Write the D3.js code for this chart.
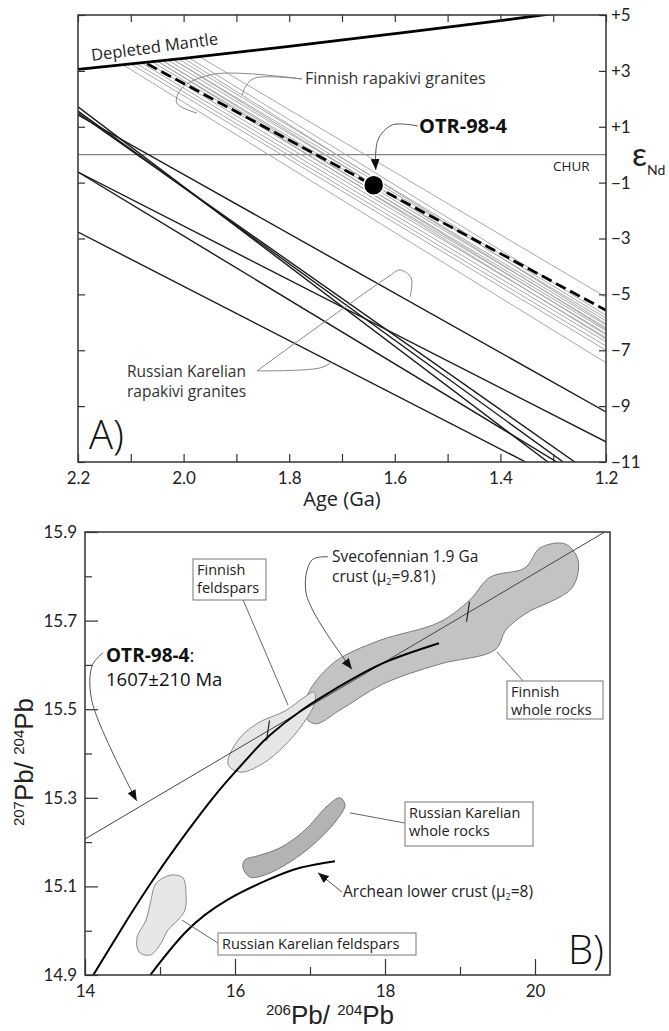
<!DOCTYPE html>
<html><head><meta charset="utf-8">
<script src="https://cdn.jsdelivr.net/npm/d3@7"></script>
<style>
body{margin:0;background:#fff}
svg{display:block;font-family:"Open Sans",Lato,sans-serif}
</style></head><body>
<svg id="fig" width="669" height="1031"></svg>
<script>
// ---------- panel A : eNd vs age ----------
const ageTicks = [2.2, 2.1, 2.0, 1.9, 1.8, 1.7, 1.6, 1.5, 1.4, 1.3, 1.2];
const epsTicks = [5, 3, 1, -1, -3, -5, -7, -9, -11];
const dmAge = [2.2, 2.0, 1.8, 1.6, 1.4, 1.3];
const dmEps = [3.05, 3.45, 3.88, 4.33, 4.80, 5.05];
// Finnish rapakivi granites: start on DM (age, eps) and eps at 1.2 Ga
const finStartAge = [1.97, 1.99, 2.01, 2.02, 2.00, 2.03, 2.04, 2.02, 2.05, 2.06, 2.04, 2.07, 2.05, 2.08, 2.09, 2.10, 2.115];
const finStartEps = [3.51, 3.47, 3.43, 3.41, 3.45, 3.39, 3.37, 3.41, 3.35, 3.33, 3.37, 3.31, 3.35, 3.29, 3.27, 3.25, 3.22];
const finEndEps   = [-5.10, -5.75, -5.85, -5.95, -6.05, -6.10, -6.20, -6.25, -6.30, -6.40, -6.45, -6.55, -6.60, -6.70, -6.85, -7.00, -7.45];
const otrLine = [[2.069, 3.25], [1.2, -5.57]];
const otrPoint = [1.64, -1.09];
// Russian Karelian rapakivi granites (age, eps) end points
const rkLines = [
  [[2.2, 1.42], [1.2, -9.21]],
  [[2.2, -0.62], [1.2, -10.28]],
  [[2.2, -0.62], [1.293, -11]],
  [[2.2, -2.77], [1.352, -11]],
  [[2.2, 1.71], [1.31, -11]],
  [[2.2, 1.56], [1.281, -11]],
  [[2.2, 1.49], [1.259, -11]]
];

// ---------- panel B : Pb isotopes ----------
const pb6Major = [14, 16, 18, 20];
const pb6Minor = [15, 17, 19];
const pb7Major = [14.9, 15.1, 15.3, 15.5, 15.7, 15.9];
const pb7Minor = [15.0, 15.2, 15.4, 15.6, 15.8];
const isochron = [[14.0, 15.207], [20.93, 15.9]];
const isoMarks = [[16.44, 15.452], [19.107, 15.72]];
const svecoCurve = [[14.11, 14.9], [14.56, 15.024], [14.96, 15.128], [15.36, 15.223], [15.707, 15.300], [16.0, 15.358],
  [16.24, 15.403], [16.467, 15.442], [16.907, 15.5], [17.36, 15.548], [17.973, 15.604], [18.72, 15.649]];
const archeanCurve = [[14.87, 14.9], [15.36, 15.0], [15.893, 15.069], [16.427, 15.114], [16.867, 15.142], [17.333, 15.157]];
const finWR = [[16.907, 15.491], [17.0, 15.543], [17.333, 15.607], [17.907, 15.654], [18.733, 15.697], [19.133, 15.747],
  [19.4, 15.798], [19.867, 15.819], [20.067, 15.864], [20.4, 15.873], [20.573, 15.837], [20.493, 15.774],
  [19.867, 15.715], [19.613, 15.679], [19.467, 15.634], [18.733, 15.602], [17.973, 15.557], [17.4, 15.498], [17.067, 15.467]];
const finFsp = [[15.907, 15.376], [16.04, 15.43], [16.307, 15.469], [16.667, 15.496], [16.933, 15.528], [17.053, 15.539],
  [17.067, 15.516], [16.893, 15.464], [16.667, 15.419], [16.36, 15.376], [16.067, 15.358]];
const rkWR = [[16.107, 15.142], [16.2, 15.121], [16.4, 15.126], [16.733, 15.155], [17.067, 15.198], [17.333, 15.245],
  [17.467, 15.284], [17.4, 15.300], [17.227, 15.281], [16.933, 15.227], [16.6, 15.187], [16.307, 15.169], [16.133, 15.16]];
const rkFsp = [[15.173, 15.126], [15.307, 15.119], [15.347, 15.081], [15.333, 15.047], [15.24, 15.024], [15.107, 15.002],
  [15.0, 14.968], [14.867, 14.945], [14.72, 14.952], [14.693, 14.984], [14.813, 15.024], [14.88, 15.069], [14.933, 15.103], [15.04, 15.119]];

const svg = d3.select("#fig");
const defs = svg.append("defs");
defs.append("marker").attr("id", "arr").attr("viewBox", "0 0 10 10")
  .attr("refX", 10).attr("refY", 5).attr("markerWidth", 11).attr("markerHeight", 11)
  .attr("markerUnits", "userSpaceOnUse").attr("orient", "auto")
  .append("path").attr("d", "M0,1 L10,5 L0,9 z").attr("fill", "#111");

function styleAxis(g, size) {
  g.select(".domain").remove();
  g.selectAll(".tick line").attr("stroke", "#333").attr("stroke-width", 1.2);
  g.selectAll(".tick text").attr("font-size", size).attr("fill", "#222").attr("font-family", "Lato, sans-serif");
}

// ================= PANEL A =================
const A = {l: 78, r: 606, t: 15, b: 462};
const xA = d3.scaleLinear().domain([2.2, 1.2]).range([A.l, A.r]);
const yA = d3.scaleLinear().domain([5, -11]).range([A.t, A.b]);
const lineA = d3.line().x(d => xA(d[0])).y(d => yA(d[1]));
const gA = svg.append("g");

defs.append("clipPath").attr("id", "clipA").append("rect")
  .attr("x", A.l).attr("y", A.t).attr("width", A.r - A.l).attr("height", A.b - A.t);
const plotA = gA.append("g").attr("clip-path", "url(#clipA)");

// CHUR
plotA.append("path").attr("d", lineA([[2.2, 0], [1.2, 0]])).attr("stroke", "#666").attr("stroke-width", 1).attr("fill", "none");

// Russian Karelian lines
plotA.selectAll(".rk").data(rkLines).join("path")
  .attr("d", d => lineA(d)).attr("stroke", "#1a1a1a").attr("stroke-width", 1.4).attr("fill", "none");

// Finnish lines
plotA.selectAll(".fin").data(finStartAge).join("path")
  .attr("d", (d, i) => lineA([[d, finStartEps[i]], [1.2, finEndEps[i]]]))
  .attr("stroke", "#a9a9a9").attr("stroke-width", 1).attr("fill", "none");

// OTR-98-4 dashed
plotA.append("path").attr("d", lineA(otrLine)).attr("stroke", "#000").attr("stroke-width", 2.8)
  .attr("stroke-dasharray", "11,5").attr("fill", "none");

// Depleted mantle
const dmLine = d3.line().x(d => xA(d[0])).y(d => yA(d[1])).curve(d3.curveMonotoneX);
plotA.append("path").attr("d", dmLine(dmAge.map((a, i) => [a, dmEps[i]])))
  .attr("stroke", "#000").attr("stroke-width", 2.8).attr("fill", "none");

plotA.append("circle").attr("cx", xA(otrPoint[0])).attr("cy", yA(otrPoint[1])).attr("r", 10)
  .attr("fill", "#000").attr("stroke", "#fff").attr("stroke-width", 1.5);

// frame + axes
gA.append("rect").attr("x", A.l).attr("y", A.t).attr("width", A.r - A.l).attr("height", A.b - A.t)
  .attr("fill", "none").attr("stroke", "#333").attr("stroke-width", 1.5);
gA.append("g").attr("transform", `translate(${A.r},0)`)
  .call(d3.axisRight(yA).tickValues(epsTicks).tickSize(-7).tickPadding(5)
    .tickFormat(d => d > 0 ? "+" + d : "\u2212" + Math.abs(d)))
  .call(g => styleAxis(g, 17));
gA.append("g").attr("transform", `translate(${A.l},0)`)
  .call(d3.axisLeft(yA).tickValues(epsTicks).tickSize(-7).tickFormat(""))
  .call(g => styleAxis(g, 17));
gA.append("g").attr("transform", `translate(0,${A.t})`)
  .call(d3.axisTop(xA).tickValues(ageTicks).tickSize(-7).tickFormat(""))
  .call(g => styleAxis(g, 17));
gA.append("g").attr("transform", `translate(0,${A.b})`)
  .call(d3.axisBottom(xA).tickValues(ageTicks).tickSize(-8).tickPadding(10)
    .tickFormat((d, i) => i % 2 === 0 ? d.toFixed(1) : ""))
  .call(g => styleAxis(g, 17));

gA.append("text").attr("x", (A.l + A.r) / 2).attr("y", 506).attr("text-anchor", "middle")
  .attr("font-size", 20).attr("fill", "#222").text("Age (Ga)");
const eps = gA.append("text").attr("x", 632).attr("y", 166).attr("fill", "#222").attr("font-family", "Lato, sans-serif");
eps.append("tspan").attr("font-size", 33).text("\u03b5");
eps.append("tspan").attr("font-size", 14).attr("dy", 9).text("Nd");

gA.append("text").attr("x", 553).attr("y", 171).attr("font-size", 13.5).attr("fill", "#222").text("CHUR");
gA.append("text").attr("transform", `translate(92,61) rotate(-7.5)`).attr("font-size", 16.5).attr("fill", "#222").text("Depleted Mantle");
gA.append("text").attr("x", 305).attr("y", 84).attr("font-size", 16).attr("fill", "#333").text("Finnish rapakivi granites");
gA.append("text").attr("x", 419).attr("y", 133).attr("font-size", 20).attr("font-weight", "bold").attr("fill", "#111").text("OTR-98-4");
gA.append("text").attr("x", 127).attr("y", 377).attr("font-size", 15.5).attr("fill", "#333").text("Russian Karelian");
gA.append("text").attr("x", 127).attr("y", 397).attr("font-size", 15.5).attr("fill", "#333").text("rapakivi granites");
gA.append("text").attr("x", 89).attr("y", 449).attr("font-size", 40).attr("font-weight", 300).attr("fill", "#111").text("A)");

const curveA = d3.line().x(d => xA(d[0])).y(d => yA(d[1])).curve(d3.curveCatmullRom);
const leaderA = [
  [[1.776, 2.71], [1.865, 2.745], [1.882, 2.459], [1.889, 2.137]],
  [[1.776, 2.71], [1.941, 2.888], [2.003, 2.387], [2.013, 1.85], [1.975, 1.49]],
  [[1.861, -7.74], [1.742, -7.634], [1.719, -7.42]],
  [[1.861, -7.74], [1.613, -4.377], [1.590, -4.127], [1.569, -4.413], [1.571, -5.093]]
];
gA.selectAll(".ldA").data(leaderA).join("path").attr("d", d => curveA(d))
  .attr("fill", "none").attr("stroke", "#888").attr("stroke-width", 1);
gA.append("path").attr("d", curveA([[1.556, 1.027], [1.605, 1.063], [1.632, 0.526], [1.636, -0.55]]))
  .attr("fill", "none").attr("stroke", "#555").attr("stroke-width", 1).attr("marker-end", "url(#arr)");

// ================= PANEL B =================
const B = {l: 85, r: 610, t: 532, b: 975};
const xB = d3.scaleLinear().domain([14, 21]).range([B.l, B.r]);
const yB = d3.scaleLinear().domain([14.9, 15.9]).range([B.b, B.t]);
const gB = svg.append("g");
defs.append("clipPath").attr("id", "clipB").append("rect")
  .attr("x", B.l).attr("y", B.t).attr("width", B.r - B.l).attr("height", B.b - B.t);
const plotB = gB.append("g").attr("clip-path", "url(#clipB)");
const blob = d3.line().x(d => xB(d[0])).y(d => yB(d[1])).curve(d3.curveCatmullRomClosed);
const curveB = d3.line().x(d => xB(d[0])).y(d => yB(d[1])).curve(d3.curveCatmullRom);
const growth = d3.line().x(d => xB(d[0])).y(d => yB(d[1])).curve(d3.curveNatural);

plotB.append("path").attr("d", blob(finWR)).attr("fill", "#c3c3c3").attr("stroke", "#7a7a7a").attr("stroke-width", 1);
plotB.append("path").attr("d", blob(finFsp)).attr("fill", "#e6e6e6").attr("stroke", "#8a8a8a").attr("stroke-width", 1);
plotB.append("path").attr("d", blob(rkWR)).attr("fill", "#b3b3b3").attr("stroke", "#777").attr("stroke-width", 1);
plotB.append("path").attr("d", blob(rkFsp)).attr("fill", "#e6e6e6").attr("stroke", "#8a8a8a").attr("stroke-width", 1);

plotB.append("path").attr("d", curveB(isochron)).attr("stroke", "#444").attr("stroke-width", 1).attr("fill", "none");
plotB.append("path").attr("d", growth(svecoCurve)).attr("stroke", "#000").attr("stroke-width", 2).attr("fill", "none");
plotB.append("path").attr("d", growth(archeanCurve)).attr("stroke", "#000").attr("stroke-width", 2).attr("fill", "none");
plotB.selectAll(".mk").data(isoMarks).join("line")
  .attr("x1", d => xB(d[0]) + 1.5).attr("y1", d => yB(d[1]) - 10)
  .attr("x2", d => xB(d[0]) - 1.5).attr("y2", d => yB(d[1]) + 10)
  .attr("stroke", "#222").attr("stroke-width", 1.2);

gB.append("rect").attr("x", B.l).attr("y", B.t).attr("width", B.r - B.l).attr("height", B.b - B.t)
  .attr("fill", "none").attr("stroke", "#333").attr("stroke-width", 1.5);
gB.append("g").attr("transform", `translate(${B.l},0)`)
  .call(d3.axisLeft(yB).tickValues(pb7Major).tickSize(-13).tickPadding(8).tickFormat(d => d.toFixed(1)))
  .call(g => styleAxis(g, 17));
gB.append("g").attr("transform", `translate(${B.l},0)`)
  .call(d3.axisLeft(yB).tickValues(pb7Minor).tickSize(-7).tickFormat(""))
  .call(g => styleAxis(g, 17));
gB.append("g").attr("transform", `translate(0,${B.b})`)
  .call(d3.axisBottom(xB).tickValues(pb6Major).tickSize(-16).tickPadding(10).tickFormat(d => d))
  .call(g => styleAxis(g, 17));
gB.append("g").attr("transform", `translate(0,${B.b})`)
  .call(d3.axisBottom(xB).tickValues(pb6Minor).tickSize(-8).tickFormat(""))
  .call(g => styleAxis(g, 17));

function pbLabel(t, a, b) {
  t.attr("font-family", "'Liberation Sans', Arial, sans-serif").attr("fill", "#222").attr("text-anchor", "middle");
  t.append("tspan").attr("font-size", 15).attr("dy", -9).text(a);
  t.append("tspan").attr("font-size", 26).attr("dy", 9).text("Pb/ ");
  t.append("tspan").attr("font-size", 15).attr("dy", -9).text(b);
  t.append("tspan").attr("font-size", 26).attr("dy", 9).text("Pb");
}
pbLabel(gB.append("text").attr("x", 330).attr("y", 1024), "206", "204");
pbLabel(gB.append("text").attr("transform", "translate(33,762) rotate(-90)"), "207", "204");

// boxed labels
function boxLabel(x, y, w, h, lines, lh) {
  gB.append("rect").attr("x", x).attr("y", y).attr("width", w).attr("height", h)
    .attr("fill", "#fff").attr("stroke", "#777").attr("stroke-width", 1);
  lines.forEach((s, i) => gB.append("text").attr("x", x + 4).attr("y", y + 16 + i * lh)
    .attr("font-size", 14.5).attr("fill", "#222").text(s));
}
const leaderB = [
  [[16.107, 15.747], [16.707, 15.509]],
  [[19.84, 15.564], [19.493, 15.629]],
  [[18.267, 15.243], [17.533, 15.266]],
  [[15.773, 14.972], [15.293, 15.024]]
];
gB.selectAll(".ldB").data(leaderB).join("path").attr("d", d => curveB(d))
  .attr("fill", "none").attr("stroke", "#666").attr("stroke-width", 1);
const arrowsB = [
  [[17.24, 15.844], [17.027, 15.837], [16.95, 15.76], [17.56, 15.59]],
  [[17.427, 15.087], [17.107, 15.131]],
  [[14.24, 15.627], [14.1, 15.6], [14.09, 15.52], [14.69, 15.293]]
];
gB.selectAll(".arB").data(arrowsB).join("path").attr("d", d => curveB(d))
  .attr("fill", "none").attr("stroke", "#555").attr("stroke-width", 1).attr("marker-end", "url(#arr)");

boxLabel(193, 559, 73, 41, ["Finnish", "feldspars"], 18);
boxLabel(507, 681, 96, 38, ["Finnish", "whole rocks"], 18);
boxLabel(405, 802, 128, 44, ["Russian Karelian", "whole rocks"], 18);
boxLabel(218, 933, 198, 22, ["Russian Karelian feldspars"], 18);

gB.append("text").attr("x", 332).attr("y", 562).attr("font-size", 15.5).attr("fill", "#222").text("Svecofennian 1.9 Ga");
const cr = gB.append("text").attr("x", 332).attr("y", 582).attr("font-size", 15.5).attr("fill", "#222");
cr.append("tspan").text("crust (\u03bc");
cr.append("tspan").attr("font-size", 9).attr("dy", 3).text("2");
cr.append("tspan").attr("dy", -3).text("=9.81)");
const ar = gB.append("text").attr("x", 343).attr("y", 897).attr("font-size", 15.5).attr("fill", "#222");
ar.append("tspan").text("Archean lower crust (\u03bc");
ar.append("tspan").attr("font-size", 9).attr("dy", 3).text("2");
ar.append("tspan").attr("dy", -3).text("=8)");

const ot = gB.append("text").attr("x", 106).attr("y", 662).attr("fill", "#111");
ot.append("tspan").attr("font-size", 19).attr("font-weight", "bold").text("OTR-98-4");
ot.append("tspan").attr("font-size", 19).text(":");
gB.append("text").attr("x", 106).attr("y", 686).attr("font-size", 18.5).attr("fill", "#111").text("1607\u00b1210 Ma");
gB.append("text").attr("x", 568).attr("y", 964).attr("font-size", 40).attr("font-weight", 300).attr("fill", "#111").text("B)");
</script>
</body></html>
